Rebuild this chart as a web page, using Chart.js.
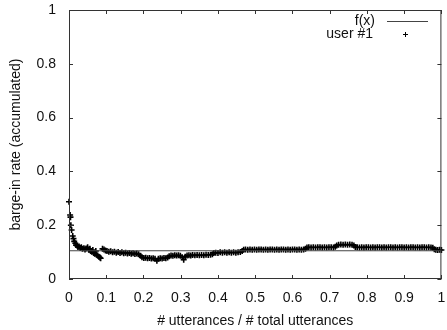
<!DOCTYPE html>
<html lang="en">
<head>
<meta charset="UTF-8" />
<title>Barge-in rate</title>
<style>
  html, body { margin: 0; padding: 0; background: #fff; }
  canvas { display: block; }
</style>
</head>
<body>
<canvas id="chart" width="447" height="330"></canvas>

<script src="https://cdn.jsdelivr.net/npm/chart.js"></script>
<script>
// fitted constant rate
const fxValue = 0.105;
const fxRange = [0, 1];

// accumulated barge-in rate of user #1: [fraction of utterances, rate]
const user1 = [
  [0.000,0.287],[0.003,0.238],[0.004,0.230],[0.005,0.200],[0.007,0.182],[0.010,0.160],
  [0.012,0.150],[0.014,0.140],[0.017,0.133],[0.019,0.126],[0.022,0.124],[0.024,0.119],
  [0.027,0.121],[0.030,0.115],[0.033,0.118],[0.036,0.112],[0.040,0.114],[0.043,0.110],
  [0.046,0.113],[0.050,0.118],[0.053,0.109],[0.056,0.112],[0.058,0.104],[0.061,0.101],
  [0.064,0.108],[0.066,0.097],[0.069,0.094],[0.072,0.104],[0.074,0.090],[0.077,0.087],
  [0.080,0.083],[0.083,0.080],[0.085,0.077],[0.090,0.112],[0.094,0.110],[0.098,0.106],
  [0.102,0.104],[0.107,0.101],[0.112,0.103],[0.117,0.099],[0.122,0.101],[0.127,0.098],
  [0.132,0.100],[0.137,0.097],[0.142,0.099],[0.147,0.096],[0.152,0.098],[0.157,0.095],
  [0.162,0.097],[0.167,0.094],[0.172,0.096],[0.177,0.093],[0.182,0.095],[0.187,0.092],
  [0.192,0.086],[0.196,0.081],[0.201,0.078],[0.206,0.079],[0.211,0.077],[0.216,0.078],
  [0.221,0.076],[0.226,0.077],[0.231,0.075],[0.236,0.068],[0.240,0.075],[0.245,0.077],
  [0.250,0.076],[0.255,0.078],[0.260,0.077],[0.265,0.080],[0.269,0.085],[0.274,0.087],
  [0.279,0.086],[0.284,0.088],[0.289,0.087],[0.294,0.088],[0.299,0.086],[0.304,0.081],
  [0.308,0.072],[0.312,0.083],[0.317,0.087],[0.322,0.088],[0.327,0.087],[0.332,0.089],
  [0.338,0.088],[0.344,0.089],[0.350,0.088],[0.356,0.089],[0.362,0.088],[0.368,0.090],
  [0.374,0.089],[0.380,0.090],[0.385,0.092],[0.389,0.097],[0.394,0.098],[0.400,0.097],
  [0.406,0.099],[0.412,0.098],[0.418,0.099],[0.424,0.098],[0.430,0.099],[0.436,0.098],
  [0.442,0.099],[0.448,0.098],[0.454,0.099],[0.460,0.100],[0.465,0.104],[0.469,0.109],
  [0.474,0.110],[0.480,0.109],[0.486,0.110],[0.492,0.109],[0.498,0.110],[0.504,0.109],
  [0.510,0.110],[0.516,0.110],[0.522,0.109],[0.528,0.110],[0.534,0.109],[0.540,0.110],
  [0.546,0.110],[0.552,0.109],[0.558,0.110],[0.564,0.109],[0.570,0.110],[0.576,0.110],
  [0.582,0.109],[0.588,0.110],[0.594,0.109],[0.600,0.110],[0.606,0.110],[0.612,0.109],
  [0.618,0.110],[0.624,0.109],[0.630,0.110],[0.635,0.112],[0.639,0.117],[0.644,0.118],
  [0.650,0.117],[0.656,0.118],[0.662,0.117],[0.668,0.118],[0.674,0.118],[0.680,0.117],
  [0.686,0.118],[0.692,0.117],[0.698,0.118],[0.704,0.118],[0.710,0.117],[0.715,0.120],
  [0.719,0.125],[0.724,0.127],[0.730,0.128],[0.736,0.127],[0.742,0.128],[0.748,0.127],
  [0.754,0.128],[0.760,0.127],[0.765,0.125],[0.769,0.119],[0.774,0.118],[0.780,0.117],
  [0.786,0.118],[0.792,0.117],[0.798,0.118],[0.804,0.118],[0.810,0.117],[0.816,0.118],
  [0.822,0.117],[0.828,0.118],[0.834,0.118],[0.840,0.117],[0.846,0.118],[0.852,0.117],
  [0.858,0.118],[0.864,0.118],[0.870,0.117],[0.876,0.118],[0.882,0.117],[0.888,0.118],
  [0.894,0.118],[0.900,0.117],[0.906,0.118],[0.912,0.117],[0.918,0.118],[0.924,0.118],
  [0.930,0.117],[0.936,0.118],[0.942,0.117],[0.948,0.118],[0.954,0.118],[0.960,0.117],
  [0.966,0.118],[0.972,0.117],[0.977,0.116],[0.981,0.111],[0.985,0.109],[0.990,0.108],
  [0.995,0.109],[1.000,0.108]
];

const xTitle = '# utterances / # total utterances';
const yTitle = 'barge-in rate (accumulated)';
const seriesNames = ['f(x)', 'user #1'];

const FONT = "'Liberation Sans', Arial, Helvetica, sans-serif";
const INK = '#111';

// plain tick numbers: 0, 0.1, ..., 1
const tickText = v => String(Math.round(v * 10) / 10);

// gnuplot-like frame: border, inward ticks on all four sides, key in the top right
const framePlugin = {
  id: 'frame',
  afterDraw(chart) {
    const ctx = chart.ctx;
    const a = chart.chartArea;
    const xs = chart.scales.x, ys = chart.scales.y;
    const len = 4;
    ctx.save();
    ctx.strokeStyle = '#333';
    ctx.lineWidth = 1;
    ctx.strokeRect(a.left + 0.5, a.top + 0.5, a.right - a.left - 1, a.bottom - a.top - 1);
    ctx.beginPath();
    xs.ticks.forEach(t => {
      const px = Math.round(xs.getPixelForValue(t.value)) + 0.5;
      ctx.moveTo(px, a.bottom); ctx.lineTo(px, a.bottom - len);
      ctx.moveTo(px, a.top); ctx.lineTo(px, a.top + len);
    });
    ys.ticks.forEach(t => {
      const py = Math.round(ys.getPixelForValue(t.value)) + 0.5;
      ctx.moveTo(a.left, py); ctx.lineTo(a.left + len, py);
      ctx.moveTo(a.right, py); ctx.lineTo(a.right - len, py);
    });
    ctx.stroke();

    // key
    ctx.font = '14px ' + FONT;
    ctx.fillStyle = INK;
    ctx.textAlign = 'right';
    ctx.textBaseline = 'middle';
    const textX = 375, row1 = 21, row2 = 34;
    ctx.fillText(seriesNames[0], textX, row1);
    ctx.fillText(seriesNames[1], textX - 2, row2);
    ctx.strokeStyle = '#444';
    ctx.beginPath();
    ctx.moveTo(387, row1 + 0.5); ctx.lineTo(428, row1 + 0.5);
    ctx.stroke();
    ctx.strokeStyle = '#000';
    ctx.beginPath();
    ctx.moveTo(405.5, row2 - 2); ctx.lineTo(405.5, row2 + 3);
    ctx.moveTo(403, row2 + 0.5); ctx.lineTo(408, row2 + 0.5);
    ctx.stroke();
    ctx.restore();
  }
};

new Chart(document.getElementById('chart'), {
  type: 'scatter',
  data: {
    datasets: [
      {
        label: seriesNames[0],
        type: 'line',
        data: fxRange.map(x => ({ x, y: fxValue })),
        borderColor: '#444',
        borderWidth: 1,
        pointRadius: 0,
        fill: false
      },
      {
        label: seriesNames[1],
        data: user1.map(p => ({ x: p[0], y: p[1] })),
        pointStyle: 'cross',
        pointRadius: 3,
        borderColor: '#000',
        backgroundColor: '#000',
        borderWidth: 1.6,
        clip: false
      }
    ]
  },
  options: {
    responsive: false,
    animation: false,
    devicePixelRatio: 1,
    layout: { padding: { top: 10, right: 1, left: 0, bottom: 0 } },
    plugins: {
      legend: { display: false },
      tooltip: { enabled: false }
    },
    scales: {
      x: {
        type: 'linear',
        min: 0,
        max: 1,
        grid: { display: false, drawTicks: false },
        border: { display: false },
        ticks: { stepSize: 0.1, color: INK, font: { family: FONT, size: 14 }, padding: 11, maxRotation: 0, callback: tickText },
        title: { display: true, text: xTitle, color: INK, font: { family: FONT, size: 14 }, padding: { top: 0, bottom: 0 } },
        afterFit(scale) {
          scale.height = 51;
          scale.paddingLeft = 0;
          scale.paddingRight = 0;
        }
      },
      y: {
        type: 'linear',
        min: 0,
        max: 1,
        grid: { display: false, drawTicks: false },
        border: { display: false },
        ticks: { stepSize: 0.2, color: INK, font: { family: FONT, size: 14 }, padding: 13, callback: tickText },
        title: { display: true, text: yTitle, color: INK, font: { family: FONT, size: 14 }, padding: { top: 8, bottom: 0 } },
        afterFit(scale) {
          scale.width = 69;
          scale.paddingTop = 0;
          scale.paddingBottom = 0;
        }
      }
    }
  },
  plugins: [framePlugin]
});
</script>
</body>
</html>
